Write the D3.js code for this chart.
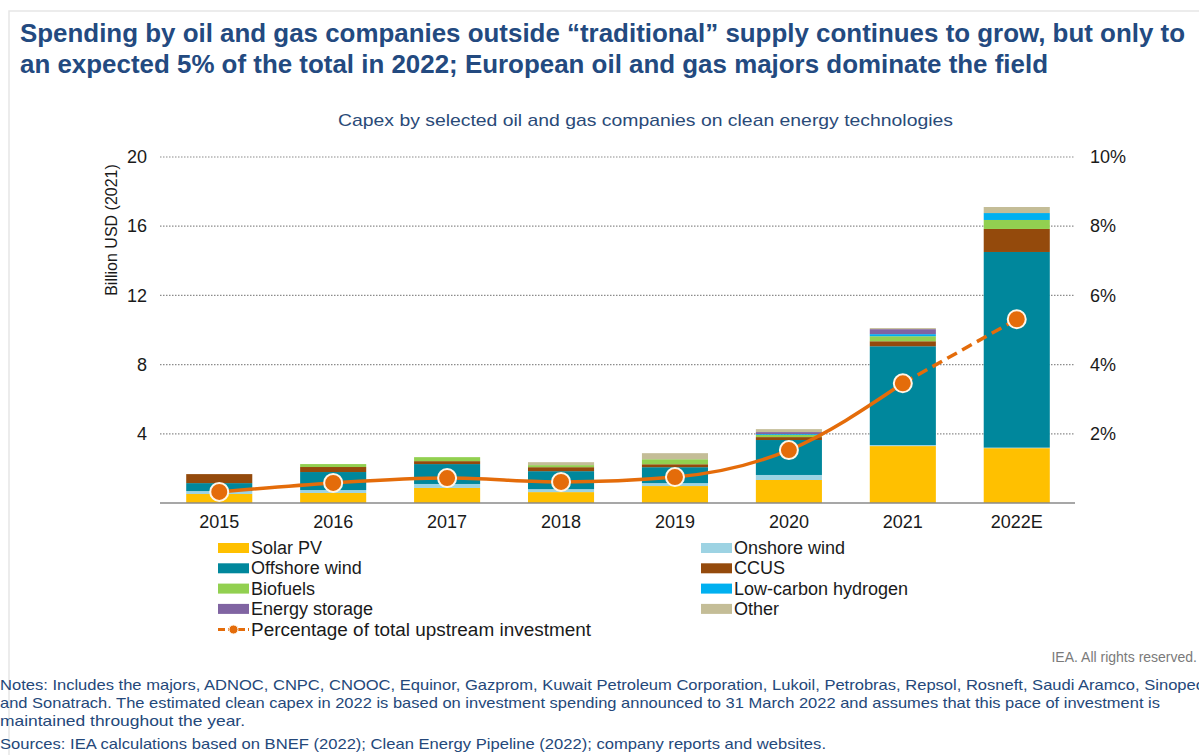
<!DOCTYPE html>
<html>
<head>
<meta charset="utf-8">
<script src="https://cdn.jsdelivr.net/npm/d3@7"></script>
<style>
  body { margin: 0; background: #fff; }
  svg { display: block; font-family: 'Liberation Sans', Arial, sans-serif; }
</style>
</head>
<body>
<svg></svg>
<script>
const years = ['2015', '2016', '2017', '2018', '2019', '2020', '2021', '2022E'];

// billion USD (2021)
const solarPV = [0.52, 0.58, 0.87, 0.63, 0.98, 1.33, 3.29, 3.17];
const onshoreWind = [0.17, 0.17, 0.23, 0.17, 0.17, 0.29, 0.06, 0.03];
const offshoreWind = [0.46, 1.04, 1.15, 1.04, 0.92, 2.02, 5.71, 11.31];
const ccus = [0.52, 0.29, 0.17, 0.23, 0.17, 0.17, 0.29, 1.33];
const biofuels = [0, 0.17, 0.23, 0.12, 0.29, 0.12, 0.29, 0.52];
const hydrogen = [0, 0, 0, 0, 0, 0.05, 0.12, 0.4];
const storage = [0, 0, 0, 0, 0, 0.12, 0.29, 0];
const other = [0, 0, 0, 0.17, 0.35, 0.17, 0.06, 0.35];

// share of total upstream investment
const pctUpstream = [0.0032, 0.0058, 0.0072, 0.0061, 0.0075, 0.0153, 0.0346, 0.0531];

const leftTicks = [4, 8, 12, 16, 20];
const rightTicks = [0.02, 0.04, 0.06, 0.08, 0.1];

const series = [
  { key: 'Solar PV', values: solarPV, color: '#ffc000' },
  { key: 'Onshore wind', values: onshoreWind, color: '#9dd3e3' },
  { key: 'Offshore wind', values: offshoreWind, color: '#00879c' },
  { key: 'CCUS', values: ccus, color: '#944a0c' },
  { key: 'Biofuels', values: biofuels, color: '#92d050' },
  { key: 'Low-carbon hydrogen', values: hydrogen, color: '#00b0f0' },
  { key: 'Energy storage', values: storage, color: '#8064a2' },
  { key: 'Other', values: other, color: '#c4bd97' },
];

const lineColor = '#e46c0a';

const width = 1199;
const height = 755;

const svg = d3.select('svg').attr('width', width).attr('height', height);

// faint frame
svg.append('path')
  .attr('d', `M9,${height}V11H${width}`)
  .attr('fill', 'none')
  .attr('stroke', '#e6e6e6')
  .attr('stroke-width', 1.5);

// title
const titleLines = [
  'Spending by oil and gas companies outside \u201ctraditional\u201d supply continues to grow, but only to',
  'an expected 5% of the total in 2022; European oil and gas majors dominate the field',
];
const titleWidths = [1165, 1028];
svg.selectAll('.title')
  .data(titleLines)
  .enter()
  .append('text')
  .attr('class', 'title')
  .attr('x', 20)
  .attr('y', (d, i) => 42 + i * 31)
  .attr('font-size', 25)
  .attr('font-weight', 'bold')
  .attr('fill', '#234a80')
  .attr('textLength', (d, i) => titleWidths[i])
  .attr('lengthAdjust', 'spacingAndGlyphs')
  .text(d => d);

svg.append('text')
  .attr('x', 338)
  .attr('y', 126)
  .attr('font-size', 17)
  .attr('fill', '#2a4a78')
  .attr('textLength', 615)
  .attr('lengthAdjust', 'spacingAndGlyphs')
  .text('Capex by selected oil and gas companies on clean energy technologies');

// scales
const x = d3.scaleBand()
  .domain(years)
  .range([160, 1076])
  .paddingInner(0.42)
  .paddingOuter(0.23);

const y = d3.scaleLinear().domain([0, 20]).range([503, 157]);
const yR = d3.scaleLinear().domain([0, 0.1]).range([503, 157]);

// gridlines
svg.append('g')
  .selectAll('line')
  .data(leftTicks)
  .enter()
  .append('line')
  .attr('x1', 160)
  .attr('x2', 1075)
  .attr('y1', d => y(d))
  .attr('y2', d => y(d))
  .attr('stroke', '#8c8c8c')
  .attr('stroke-width', 1.2)
  .attr('stroke-dasharray', '1.5,1.5');

// stacked bars
const table = years.map((yr, i) => {
  const row = { year: yr };
  series.forEach(s => { row[s.key] = s.values[i]; });
  return row;
});
const stack = d3.stack().keys(series.map(s => s.key));
const layers = stack(table);

svg.append('g')
  .selectAll('g')
  .data(layers)
  .enter()
  .append('g')
  .attr('fill', (d, i) => series[i].color)
  .selectAll('rect')
  .data(d => d)
  .enter()
  .append('rect')
  .attr('x', d => x(d.data.year))
  .attr('width', x.bandwidth())
  .attr('y', d => y(d[1]))
  .attr('height', d => Math.max(0, y(d[0]) - y(d[1])));

// baseline
svg.append('line')
  .attr('x1', 160)
  .attr('x2', 1075)
  .attr('y1', y(0))
  .attr('y2', y(0))
  .attr('stroke', '#8a8a8a')
  .attr('stroke-width', 1.6);

// axes
const leftAxis = svg.append('g')
  .attr('transform', 'translate(147,0)')
  .call(d3.axisLeft(y).tickValues(leftTicks).tickSize(0).tickPadding(0));
const rightAxis = svg.append('g')
  .attr('transform', 'translate(1090,0)')
  .call(d3.axisRight(yR).tickValues(rightTicks).tickFormat(d3.format('.0%')).tickSize(0).tickPadding(0));
const bottomAxis = svg.append('g')
  .attr('transform', `translate(0,${y(0)})`)
  .call(d3.axisBottom(x).tickSize(0).tickPadding(12));

[leftAxis, rightAxis, bottomAxis].forEach(a => {
  a.select('.domain').remove();
  a.selectAll('text')
    .attr('font-size', 18)
    .attr('font-family', 'Liberation Sans, Arial, sans-serif')
    .attr('fill', '#1a1a1a');
});

svg.append('text')
  .attr('transform', 'translate(117,230) rotate(-90)')
  .attr('text-anchor', 'middle')
  .attr('font-size', 16)
  .attr('fill', '#1a1a1a')
  .text('Billion USD (2021)');

// percentage line: solid through 2021, dashed to the 2022 estimate
const pts = years.map((yr, i) => [x(yr) + x.bandwidth() / 2, yR(pctUpstream[i])]);
const smooth = d3.line().curve(d3.curveMonotoneX);

svg.append('path')
  .attr('d', smooth(pts.slice(0, 7)))
  .attr('fill', 'none')
  .attr('stroke', lineColor)
  .attr('stroke-width', 3.5);

svg.append('path')
  .attr('d', d3.line()(pts.slice(6)))
  .attr('fill', 'none')
  .attr('stroke', lineColor)
  .attr('stroke-width', 3.5)
  .attr('stroke-dasharray', '11,6');

svg.append('g')
  .selectAll('circle')
  .data(pts)
  .enter()
  .append('circle')
  .attr('cx', d => d[0])
  .attr('cy', d => d[1])
  .attr('r', 9)
  .attr('fill', lineColor)
  .attr('stroke', '#fff6e8')
  .attr('stroke-width', 2);

// legend
const legend = svg.append('g');
const legendItems = legend.selectAll('g')
  .data(series)
  .enter()
  .append('g')
  .attr('transform', (d, i) => `translate(${i % 2 === 0 ? 218 : 701},${548 + Math.floor(i / 2) * 20.3})`);

legendItems.append('rect')
  .attr('x', 0)
  .attr('y', -5)
  .attr('width', 31)
  .attr('height', 10)
  .attr('fill', d => d.color);

legendItems.append('text')
  .attr('x', 33)
  .attr('y', 6)
  .attr('font-size', 18)
  .attr('fill', '#1a1a1a')
  .text(d => d.key);

const lineKey = legend.append('g').attr('transform', 'translate(218,629.5)');
lineKey.append('line')
  .attr('x1', 0)
  .attr('x2', 31)
  .attr('stroke', lineColor)
  .attr('stroke-width', 3)
  .attr('stroke-dasharray', '7,3');
lineKey.append('circle')
  .attr('cx', 15.5)
  .attr('r', 4.5)
  .attr('fill', lineColor)
  .attr('stroke', '#fff6e8')
  .attr('stroke-width', 1);
lineKey.append('text')
  .attr('x', 33)
  .attr('y', 6)
  .attr('font-size', 18)
  .attr('fill', '#1a1a1a')
  .attr('textLength', 340)
  .attr('lengthAdjust', 'spacingAndGlyphs')
  .text('Percentage of total upstream investment');

// footer
svg.append('text')
  .attr('x', 1197)
  .attr('y', 662)
  .attr('text-anchor', 'end')
  .attr('font-size', 14)
  .attr('fill', '#7a7a7a')
  .text('IEA. All rights reserved.');

const notes = [
  { t: 'Notes: Includes the majors, ADNOC, CNPC, CNOOC, Equinor, Gazprom, Kuwait Petroleum Corporation, Lukoil, Petrobras, Repsol, Rosneft, Saudi Aramco, Sinopec', w: 1204, y: 690 },
  { t: 'and Sonatrach. The estimated clean capex in 2022 is based on investment spending announced to 31 March 2022 and assumes that this pace of investment is', w: 1160, y: 708 },
  { t: 'maintained throughout the year.', w: 245, y: 726 },
  { t: 'Sources: IEA calculations based on BNEF (2022); Clean Energy Pipeline (2022); company reports and websites.', w: 826, y: 749 },
];
svg.selectAll('.note')
  .data(notes)
  .enter()
  .append('text')
  .attr('class', 'note')
  .attr('x', 0)
  .attr('y', d => d.y)
  .attr('font-size', 14.5)
  .attr('fill', '#24487a')
  .attr('textLength', d => d.w)
  .attr('lengthAdjust', 'spacingAndGlyphs')
  .text(d => d.t);
</script>
</body>
</html>
